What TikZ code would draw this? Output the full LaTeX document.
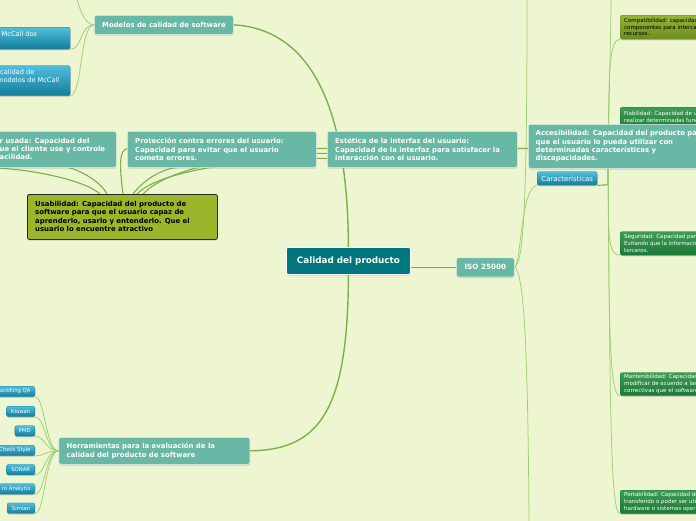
\documentclass[tikz,border=0pt]{standalone}
\usepackage{fontspec}
\setmainfont{DejaVu Sans}
\usetikzlibrary{shadows,calc}
\pgfdeclarelayer{back}
\pgfdeclarelayer{links}
\pgfsetlayers{back,links,main}
\definecolor{bgc}{RGB}{237,246,209}
\definecolor{tealc}{RGB}{105,184,165}
\definecolor{tealedge}{RGB}{228,242,232}
\definecolor{darkteal}{RGB}{0,118,127}
\definecolor{blueT}{RGB}{80,190,220}
\definecolor{blueB}{RGB}{20,125,155}
\definecolor{olivec}{RGB}{156,182,44}
\definecolor{compT}{RGB}{150,182,52}
\definecolor{compB}{RGB}{108,140,30}
\definecolor{greenT}{RGB}{62,156,86}
\definecolor{greenB}{RGB}{28,120,55}
\definecolor{linkc}{RGB}{122,178,74}
\definecolor{linkl}{RGB}{160,206,115}
\begin{document}
\begin{tikzpicture}[x=1pt,y=-1pt,
  every node/.style={inner sep=0pt},
  sz/.style 2 args={minimum width=#1pt, minimum height=#2pt},
  boxbase/.style={anchor=north west, rounded corners=2pt},
  shad/.style={drop shadow={shadow xshift=0.4pt, shadow yshift=-1.2pt, opacity=0.3}},
  tealbox/.style={boxbase, fill=tealc, draw=tealedge, line width=0.6pt, shad},
  darkbox/.style={boxbase, fill=darkteal, draw=white, line width=0.8pt, shad},
  bluebox/.style={boxbase, top color=blueT, bottom color=blueB, draw=blueB, line width=0.3pt, shad},
  olivebox/.style={boxbase, fill=olivec, draw=black!85, line width=0.8pt, shad},
  compbox/.style={boxbase, top color=compT, bottom color=compB, draw=compB, line width=0.3pt, shad},
  greenbox/.style={boxbase, top color=greenT, bottom color=greenB, draw=greenB, line width=0.3pt, shad},
  wtxt/.style={anchor=west, align=left, text=white, font=\fontsize{6.9}{8.4}\selectfont\bfseries},
  ktxt/.style={anchor=west, align=left, text=black, font=\fontsize{6.9}{8.4}\selectfont\bfseries},
  btxt/.style={anchor=west, align=left, text=white, font=\fontsize{6.6}{8.3}\selectfont},
  tooltxt/.style={text=white, font=\fontsize{5.3}{6}\selectfont},
  gtxt/.style={anchor=west, align=left, text=white, font=\fontsize{5.5}{6.7}\selectfont},
  mainlink/.style={draw=linkc, line width=1.4pt},
  ulink/.style={draw=linkc, line width=1.1pt},
  thinlink/.style={draw=linkl, line width=0.75pt}
]
\useasboundingbox (0,0) rectangle (696,520);
\begin{pgfonlayer}{back}
\fill[bgc] (-80,-20) rectangle (780,540);
\end{pgfonlayer}

% ---------- nodes ----------
\node[tealbox, sz={139}{19}] (mod) at (94,15) {};
\node[wtxt] (modt) at ($(mod.west)+(8,0)$) {Modelos de calidad de software};

\node[bluebox, sz={110}{22}] (mc1) at (-40,27) {};
\node[btxt] (mc1t) at (1.5,34) {McCall dos};
\node[bluebox, sz={110}{30}] (mc2) at (-40,65.5) {};
\node[btxt] (mc2t) at (-3,76) {\hspace*{3pt}calidad de\\modelos de McCall};

\node[tealbox, sz={176}{36}] (usd) at (-60,131) {};
\node[wtxt] (usdt) at (-0.5,149) {r usada: Capacidad del\\ue el cliente use y controle\\acilidad.};
\node[tealbox, sz={189}{36}] (pro) at (127,131) {};
\node[wtxt] (prot) at ($(pro.west)+(8,0)$) {Protección contra errores del usuario:\\Capacidad para evitar que el usuario\\cometa errores.};
\node[tealbox, sz={190}{36}] (est) at (327,131) {};
\node[wtxt] (estt) at ($(est.west)+(8,0)$) {Estética de la interfaz del usuario:\\Capacidad de la interfaz para satisfacer la\\interacción con el usuario.};

\node[greenbox, sz={100}{24}] (fia) at (620,107) {};
\node[gtxt] (fiat) at ($(fia.west)+(4,-2)$) {Fiabilidad: Capacidad de un\\realizar determinadas funciones};

\node[tealbox, sz={200}{44}] (acc) at (528,124) {};
\node[wtxt] (acct) at ($(acc.west)+(7.5,0)$) {Accesibilidad: Capacidad del producto para\\que el usuario lo pueda utilizar con\\determinadas características y\\discapacidades.};
\node[bluebox, sz={60}{13.5}] (car) at (537,171.5) {};
\node[text=white, font=\fontsize{6.9}{8}\selectfont] (cart) at (car.center) {Características};

\node[olivebox, sz={190}{45}] (usa) at (27,194) {};
\node[ktxt] (usat) at ($(usa.west)+(8,-0.5)$) {Usabilidad: Capacidad del producto de\\software para que el usuario capaz de\\aprenderlo, usarlo y entenderlo. Que el\\usuario lo encuentre atractivo};

\node[darkbox, sz={124}{27}] (cal) at (286,247) {};
\node[text=white, font=\fontsize{8.8}{10}\selectfont\bfseries] (calt) at (cal.center) {Calidad del producto};
\node[tealbox, sz={58}{19}] (iso) at (456,257.5) {};
\node[text=white, font=\fontsize{7.2}{9}\selectfont\bfseries] (isot) at (iso.center) {ISO 25000};

\node[tealbox, sz={191}{27}] (her) at (58.5,437) {};
\node[wtxt] (hert) at ($(her.west)+(8,0)$) {Herramientas para la evaluación de la\\calidad del producto de software};

\node[bluebox, anchor=north east, sz={60}{10.5}] (t1) at (35,386) {};
\node[tooltxt, anchor=east] (t1t) at ($(t1.east)+(-4.3,0)$) {ackKing QA};
\node[bluebox, anchor=north east, sz={28.3}{10.5}] (t2) at (35,406) {};
\node[tooltxt] (t2t) at (t2.center) {Kiuwan};
\node[bluebox, anchor=north east, sz={20}{10.5}] (t3) at (35,425.5) {};
\node[tooltxt] (t3t) at (t3.center) {PMD};
\node[bluebox, anchor=north east, sz={60}{10.5}] (t4) at (35,445) {};
\node[tooltxt, anchor=east] (t4t) at ($(t4.east)+(-4.3,0)$) {Check Style};
\node[bluebox, anchor=north east, sz={28.3}{10.5}] (t5) at (35,464.3) {};
\node[tooltxt] (t5t) at (t5.center) {SONAR};
\node[bluebox, anchor=north east, sz={60}{10.5}] (t6) at (35,483.5) {};
\node[tooltxt, anchor=east] (t6t) at ($(t6.east)+(-4.3,0)$) {ro Analytix};
\node[bluebox, anchor=north east, sz={27.7}{10.5}] (t7) at (35,502.8) {};
\node[tooltxt] (t7t) at (t7.center) {Simian};

\node[compbox, sz={100}{24}] (comp) at (620,15) {};
\node[gtxt, text=black] (compt) at ($(comp.west)+(4,0)$) {Compatibilidad: capacidad de\\componentes para intercambiar\\recursos.};
\node[greenbox, sz={100}{23.5}] (seg) at (620,231.5) {};
\node[gtxt] (segt) at ($(seg.west)+(4,0)$) {Seguridad: Capacidad para\\Evitando que la información\\terceros.};
\node[greenbox, sz={100}{23}] (mant) at (620,372.5) {};
\node[gtxt] (mantt) at ($(mant.west)+(4,0)$) {Mantenibilidad: Capacidad\\modificar de acuerdo a las\\correctivas que el software};
\node[greenbox, sz={100}{23.5}] (port) at (620,490) {};
\node[gtxt] (portt) at ($(port.west)+(4,0)$) {Portabilidad: Capacidad de\\transferido o poder ser utilizado\\hardware o sistemas operativos};

% ---------- free ends ----------
\coordinate (modUp) at (76,-5);
\coordinate (offL) at (-6,168);
\coordinate (isoUp) at (527,-5);
\coordinate (isoDn) at (529,525);
\coordinate (trTop) at (611,-5);
\coordinate (j) at ($(car.south east)+(11,0)$);

% ---------- connectors ----------
\begin{pgfonlayer}{links}
\draw[mainlink] (cal.north) .. controls (348,130) and (322,30) .. (mod.east);
\draw[mainlink] (cal.south) .. controls (348,410) and (320,450) .. (her.east);
\draw[mainlink] (iso.west -| cal.east) -- (iso.west);

\draw[thinlink] (mod.west) .. controls +(-10,0) and +(3,12) .. (modUp);
\draw[thinlink] (mod.west) .. controls +(-14,0) and +(12,0) .. (mc1.south east);
\draw[thinlink] (mod.west) .. controls +(-14,0) and +(12,0) .. (mc2.south east);

\draw[ulink] ($(usa.north west)+(73,0)$) .. controls (85,180) and (30,169) .. (offL);
\draw[ulink] ($(usa.north west)+(80,0)$) .. controls (100,180) and (75,168) .. ($(usd.south east)+(-49,0)$);
\draw[ulink] ($(usa.north west)+(106,0)$) .. controls (145,178) and (165,168) .. ($(pro.south west)+(50,0)$);
\draw[ulink] ($(usa.north west)+(110,0)$) .. controls (160,170) and (250,158) .. ($(est.west)+(10,9)$);
\draw[ulink] ($(usa.north west)+(116,0)$) .. controls (170,166) and (250,153) .. ($(est.west)+(10,4)$);
\draw[ulink] (car.south east) -- (604,185) .. controls (608,185) .. (608,180) -- (608,155) .. controls (608,148.5) .. (600,148.5) -- (128,148.5) .. controls (118,148.5) and (120,170) .. ($(usa.north west)+(96,0)$);

\draw[thinlink] (iso.east) .. controls (521,265) and (521,186) .. (car.south west);
\draw[thinlink] (iso.east) .. controls (524,262) and (527,200) .. (isoUp);
\draw[thinlink] (iso.east) .. controls (524,272) and (528,350) .. (isoDn);

\draw[thinlink] (j) .. controls (608,120) and (611,40) .. (trTop);
\draw[thinlink] (j) .. controls (608,70) and (609,39) .. (comp.south west);
\draw[thinlink] (j) .. controls (608,150) and (609,131) .. (fia.south west);
\draw[thinlink] (j) .. controls (608,240) and (609,255) .. (seg.south west);
\draw[thinlink] (j) .. controls (609,340) and (610,395.5) .. (mant.south west);
\draw[thinlink] (j) .. controls (610,420) and (611,513.5) .. (port.south west);

\foreach \t in {t1,t2,t3,t4,t5,t6,t7}
  \draw[thinlink] (her.west) .. controls +(-13,0) and +(10,0) .. (\t.south east);
\end{pgfonlayer}
\end{tikzpicture}
\end{document}
